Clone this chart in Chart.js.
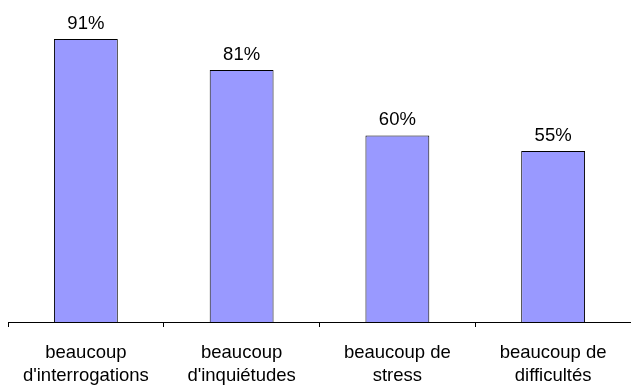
<!DOCTYPE html>
<html>
<head>
<meta charset="utf-8">
<script src="https://cdn.jsdelivr.net/npm/chart.js@4/dist/chart.umd.min.js"></script>
<style>
  html, body { margin: 0; padding: 0; background: #fff; }
  #wrap { width: 631px; height: 385px; }
</style>
</head>
<body>
<div id="wrap"><canvas id="chart" width="631" height="385"></canvas></div>
<script>
// Category labels (two lines each) and percentages
const categories = [
  ['beaucoup', "d'interrogations"],
  ['beaucoup', "d'inquiétudes"],
  ['beaucoup de', 'stress'],
  ['beaucoup de', 'difficultés']
];
const percentages = [91, 81, 60, 55];

const FONT_FAMILY = '"Liberation Sans", Arial, sans-serif';

// Writes each bar's value above it
const valueLabels = {
  id: 'valueLabels',
  afterDatasetsDraw(chart) {
    const ctx = chart.ctx;
    const meta = chart.getDatasetMeta(0);
    ctx.save();
    ctx.font = '18.5px ' + FONT_FAMILY;
    ctx.fillStyle = '#000';
    ctx.textAlign = 'center';
    ctx.textBaseline = 'alphabetic';
    meta.data.forEach((bar, i) => {
      ctx.fillText(percentages[i] + '%', bar.x, bar.y - 10);
    });
    ctx.restore();
  }
};

new Chart(document.getElementById('chart'), {
  type: 'bar',
  data: {
    labels: categories,
    datasets: [{
      data: percentages,
      backgroundColor: '#9999FF',
      borderColor: '#000',
      borderWidth: 1,
      categoryPercentage: 0.41,
      barPercentage: 1
    }]
  },
  options: {
    responsive: false,
    animation: false,
    layout: { padding: { top: 11, left: 8, right: 0, bottom: 0 } },
    plugins: { legend: { display: false }, tooltip: { enabled: false } },
    scales: {
      y: { display: false, min: 0, max: 100 },
      x: {
        offset: true,
        afterFit(scale) { scale.height = 63; },
        border: { display: true, color: '#000', width: 1 },
        grid: { offset: true, drawOnChartArea: false, drawTicks: true, tickLength: 5, color: '#000' },
        ticks: {
          padding: 14,
          color: '#000',
          maxRotation: 0,
          autoSkip: false,
          font: { family: FONT_FAMILY, size: 18.5, lineHeight: '23px' }
        }
      }
    }
  },
  plugins: [valueLabels]
});
</script>
</body>
</html>
